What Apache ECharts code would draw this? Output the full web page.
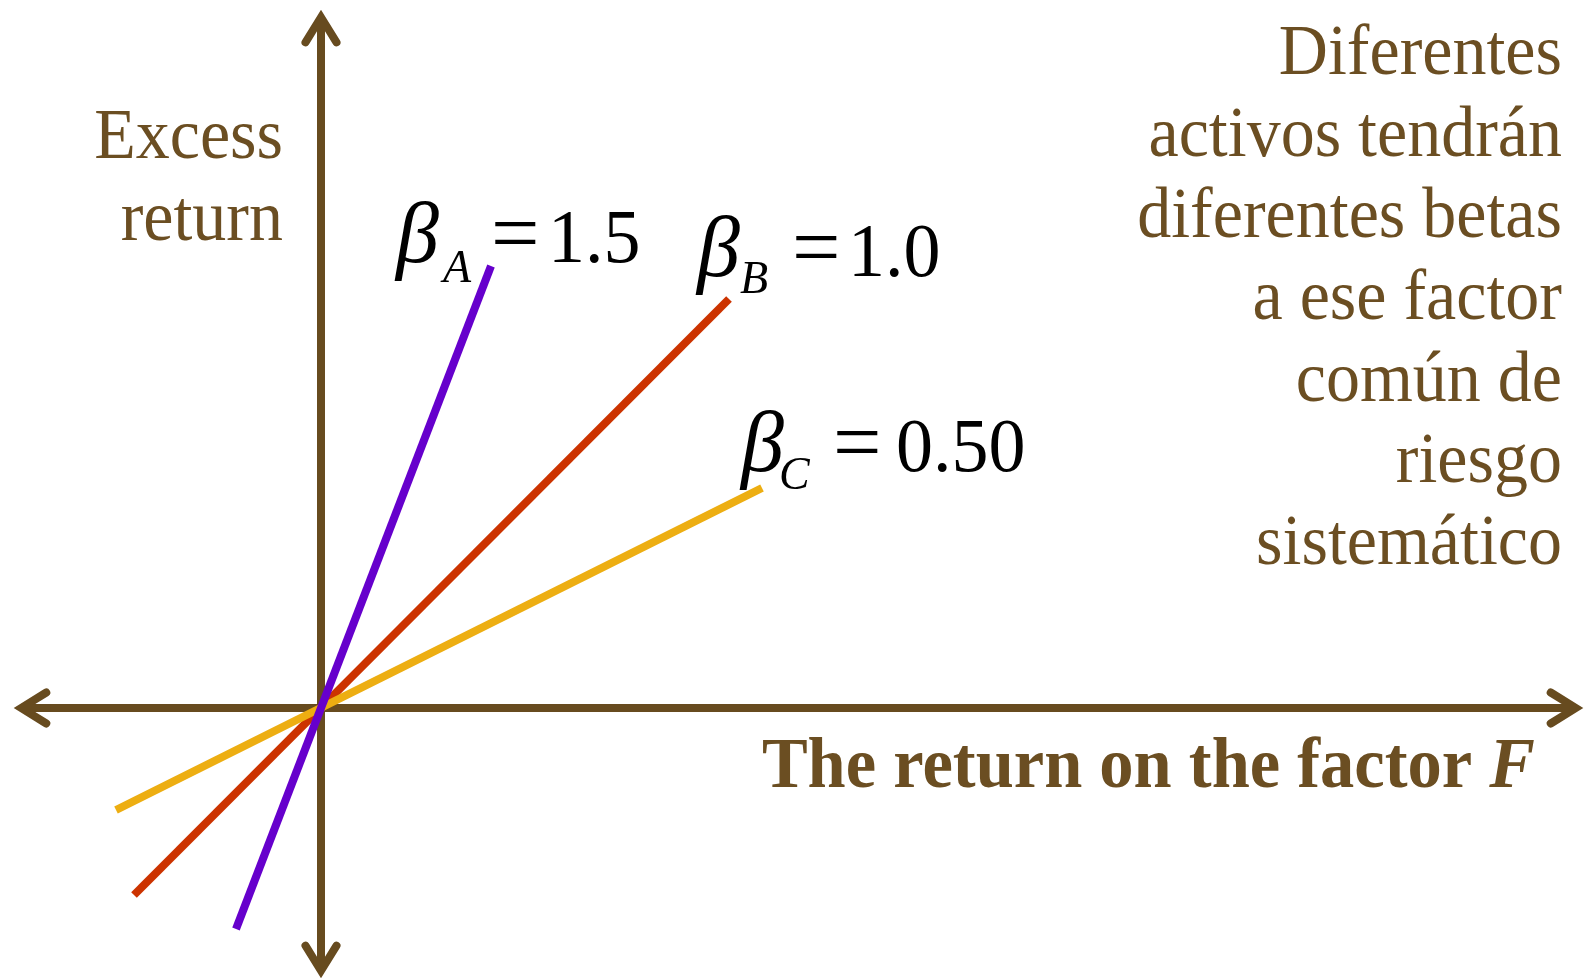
<!DOCTYPE html>
<html>
<head>
<meta charset="utf-8">
<script src="https://cdn.jsdelivr.net/npm/echarts@6/dist/echarts.min.js"></script>
<style>
  html, body { margin: 0; padding: 0; background: #fff; }
  #chart { width: 1588px; height: 979px; }
</style>
</head>
<body>
<div id="chart"></div>
<script>
// line end points, in the units of the two value axes (origin = crossing of the axes)
const assetA = [[-85, -221], [170, 442]];
const assetB = [[-187, -187], [408, 409]];
const assetC = [[-205, -102], [441, 220]];

const xRange = [-289, 1244];
const yRange = [-252, 680];

const yTitle = ["Excess", "return"];
const xTitle = "The return on the factor ";
const xTitleVar = "F";
const note = [
  "Diferentes",
  "activos tendrán",
  "diferentes betas",
  "a ese factor",
  "común de",
  "riesgo",
  "sistemático",
];
const betaLabels = [
  { sub: "A", value: "1.5" },
  { sub: "B", value: "1.0" },
  { sub: "C", value: "0.50" },
];

const BROWN = "#674b1f";
const TEXT_BROWN = "#6b4e22";
const FONT = '"Liberation Serif", "Times New Roman", serif';
const BASE = 0.25;    // baseline offset from the middle of the line, in em
const STRETCH = 1.05; // the reference serif is a little taller than Liberation Serif

// open chevron arrow head (points up), with a short stub of shaft
const arrowHead =
  "path://M0 0.41 L18.9 30.89 A4 4 0 0 1 12.1 35.11 L4 22.04 L4 37 L-4 37 L-4 22.04 " +
  "L-12.1 35.11 A4 4 0 0 1 -18.9 30.89 Z";

const axisLine = {
  onZero: true,
  symbol: [arrowHead, arrowHead],
  symbolSize: [39, 37],
  lineStyle: { color: BROWN, width: 8, cap: "butt" },
};

function lineSeries(name, data, color) {
  return {
    name,
    type: "line",
    data,
    symbol: "none",
    silent: true,
    lineStyle: { color, width: 8, cap: "butt" },
  };
}

// piece of text placed by its baseline
function txt(text, x, baseline, size, opts = {}) {
  return {
    type: "text",
    x,
    y: baseline - BASE * size,
    originX: 0,
    originY: BASE * size,
    scaleY: opts.stretch || 1,
    silent: true,
    style: {
      text,
      fill: opts.fill || "#000",
      fontFamily: FONT,
      fontSize: size,
      fontStyle: opts.italic ? "italic" : "normal",
      fontWeight: opts.bold ? "bold" : "normal",
      align: opts.align || "left",
      verticalAlign: "middle",
    },
  };
}

function multiline(lines, xRight, firstBaseline, size, lh) {
  const lhSet = lh / STRETCH;
  return {
    type: "text",
    x: xRight,
    y: firstBaseline - BASE * size - lhSet / 2,
    originX: 0,
    originY: BASE * size + lhSet / 2,
    scaleY: STRETCH,
    silent: true,
    style: {
      text: lines.join("\n"),
      fill: TEXT_BROWN,
      fontFamily: FONT,
      fontSize: size,
      lineHeight: lhSet,
      align: "right",
      verticalAlign: "top",
    },
  };
}

// label positions: [beta x, main baseline, sub x, sub baseline, "=" x, value x]
const labelPos = [
  [396, 261, 443, 281, 491, 548],
  [697, 275, 740, 292, 792, 848],
  [741, 470, 779, 488, 833, 896],
];

const graphics = [
  multiline(yTitle, 283, 157, 68, 82),
  multiline(note, 1562, 73, 68, 81.7),
  {
    type: "text",
    x: 1535,
    y: 786 - BASE * 68.5,
    originX: 0,
    originY: BASE * 68.5,
    scaleY: STRETCH,
    silent: true,
    style: {
      text: "{n|" + xTitle + "}{i|" + xTitleVar + "}",
      align: "right",
      verticalAlign: "middle",
      rich: {
        n: { fontFamily: FONT, fontSize: 68.5, fontWeight: "bold", fill: TEXT_BROWN, lineHeight: 80, verticalAlign: "middle" },
        i: { fontFamily: FONT, fontSize: 68.5, fontWeight: "bold", fontStyle: "italic", fill: TEXT_BROWN, lineHeight: 80, verticalAlign: "middle" },
      },
    },
  },
];
betaLabels.forEach((b, i) => {
  const p = labelPos[i];
  graphics.push(txt("β", p[0], p[1], 86, { italic: true }));
  graphics.push(txt(b.sub, p[2], p[3], 46, { italic: true }));
  graphics.push(txt("=", p[4], p[1], 86));
  graphics.push(txt(b.value, p[5], p[1], 74, { stretch: 1.03 }));
});

const chart = echarts.init(document.getElementById("chart"));
chart.setOption({
  animation: false,
  backgroundColor: "#fff",
  grid: { left: 32, right: 23, top: 28, bottom: 19, containLabel: false },
  xAxis: {
    type: "value",
    min: xRange[0],
    max: xRange[1],
    axisLine,
    axisTick: { show: false },
    axisLabel: { show: false },
    splitLine: { show: false },
  },
  yAxis: {
    type: "value",
    min: yRange[0],
    max: yRange[1],
    axisLine,
    axisTick: { show: false },
    axisLabel: { show: false },
    splitLine: { show: false },
  },
  series: [
    lineSeries("βB", assetB, "#cc3300"),
    lineSeries("βC", assetC, "#edae12"),
    lineSeries("βA", assetA, "#6600cc"),
  ],
  graphic: { elements: graphics },
});
</script>
</body>
</html>
